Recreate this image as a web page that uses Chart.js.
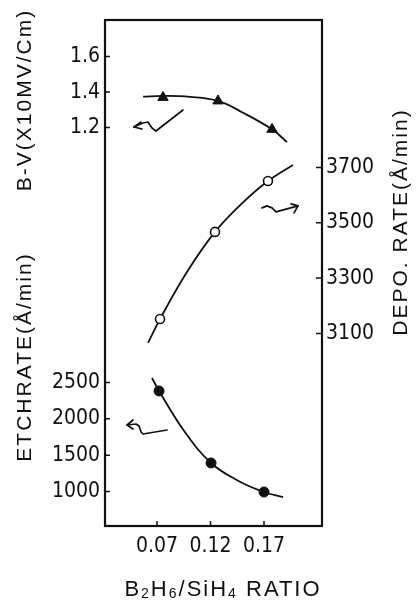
<!DOCTYPE html>
<html>
<head>
<meta charset="utf-8">
<script src="https://cdn.jsdelivr.net/npm/chart.js@4.4.0/dist/chart.umd.min.js"></script>
<style>
  html, body { margin: 0; padding: 0; background: #fff; }
</style>
</head>
<body>
<canvas id="chart" width="416" height="607"></canvas>
<script>
// --- tick labels ---
const xTicks = [0.07, 0.12, 0.17];
const bvTicks = [1.2, 1.4, 1.6];
const etchTicks = [1000, 1500, 2000, 2500];
const depoTicks = [3100, 3300, 3500, 3700];

// --- measured points ---
const bvX = [0.0756, 0.127, 0.1775];
const bvY = [1.37, 1.35, 1.19];
const depoX = [0.0728, 0.1242, 0.1737];
const depoY = [3152, 3467, 3651];
const etchX = [0.0719, 0.1205, 0.17];
const etchY = [2384, 1392, 992];

// --- fitted curves ---
const bvCurveX = [0.057, 0.0756, 0.1008, 0.127, 0.150, 0.1775, 0.1915];
const bvCurveY = [1.374, 1.378, 1.373, 1.35, 1.285, 1.19, 1.118];
const depoCurveX = [0.0616, 0.0728, 0.098, 0.1242, 0.1494, 0.1737, 0.197];
const depoCurveY = [3066, 3152, 3322, 3467, 3570, 3651, 3709];
const etchCurveX = [0.0653, 0.0719, 0.0962, 0.1205, 0.1457, 0.17, 0.1878];
const etchCurveY = [2563, 2384, 1815, 1392, 1148, 992, 923];

// axis ranges (whole plot height is shared by the three y scales)
const xMin = 0.0214, xMax = 0.2242;
const bvMin = -1.045, bvMax = 1.806;
const etchMin = 524, etchMax = 7494;
const depoMin = 2404, depoMax = 4233;

// hand drawn squiggle arrows: anchor in data units, stroke + head in px around it
const arrows = [
  { axis: 'ybv', x: 0.0709, y: 1.248,
    path: [[-24, 8], [-15, 4], [-10, 3], [-6, 9], [-2, 12], [25, -9]],
    head: [[-17, 3], [-24, 8], [-16, 10]] },
  { axis: 'yd', x: 0.1859, y: 3554,
    path: [[-19, 0], [-14, -2], [-9, 0], [-5, 4], [17, -2]],
    head: [[10, -4], [17, -2], [13, 5]] },
  { axis: 'y', x: 0.0607, y: 1874,
    path: [[-20, -3], [-11, -4], [-8, -2], [-6, 4], [-4, 6], [20, 2]],
    head: [[-14, -8], [-20, -3], [-14, 1]] }
];

const INK = '#111';
const tickFont = { family: "'Liberation Sans Narrow', 'DejaVu Sans Condensed', 'Liberation Sans', sans-serif", size: 21 };
const titleFamily = "'Liberation Sans', 'DejaVu Sans', sans-serif";

const pts = (xs, ys) => xs.map((x, i) => ({ x: x, y: ys[i] }));

// frame, inward tick marks, axis titles and arrows
const decor = {
  id: 'decor',
  afterDraw(chart) {
    const c = chart.ctx;
    const a = chart.chartArea;
    const s = chart.scales;
    c.save();
    c.strokeStyle = INK;
    c.lineWidth = 2.2;
    c.strokeRect(a.left, a.top, a.right - a.left, a.bottom - a.top);

    c.lineWidth = 1.5;
    c.beginPath();
    s.y.ticks.forEach(t => {
      const p = s.y.getPixelForValue(t.value);
      c.moveTo(a.left, p); c.lineTo(a.left + 5, p);
    });
    s.yd.ticks.forEach(t => {
      const p = s.yd.getPixelForValue(t.value);
      c.moveTo(a.right, p); c.lineTo(a.right - 6, p);
    });
    s.x.ticks.forEach(t => {
      const p = s.x.getPixelForValue(t.value);
      c.moveTo(p, a.bottom); c.lineTo(p, a.bottom - 5);
    });
    c.stroke();

    c.fillStyle = INK;
    c.textAlign = 'center';
    c.textBaseline = 'middle';
    c.font = '21px ' + titleFamily;
    c.letterSpacing = '2px';
    const vtext = (txt, x, y) => {
      c.save(); c.translate(x, y); c.rotate(-Math.PI / 2); c.fillText(txt, 0, 0); c.restore();
    };
    vtext('B-V(X10MV/Cm)', 25, 100);
    vtext('ETCHRATE(\u00C5/min)', 25, 357);
    vtext('DEPO. RATE(\u00C5/min)', 401, 222);

    // x title with subscripts
    const parts = [['B', 0], ['2', 1], ['H', 0], ['6', 1], ['/', 0], ['SiH', 0], ['4', 1], [' RATIO', 0]];
    c.letterSpacing = '2px';
    c.textAlign = 'left';
    c.textBaseline = 'alphabetic';
    let w = 0;
    parts.forEach(p => {
      c.font = (p[1] ? '14px ' : '22px ') + titleFamily;
      w += c.measureText(p[0]).width;
    });
    let x = 223 - w / 2;
    parts.forEach(p => {
      c.font = (p[1] ? '14px ' : '22px ') + titleFamily;
      c.fillText(p[0], x, p[1] ? 598 : 596);
      x += c.measureText(p[0]).width;
    });

    c.lineWidth = 1.7;
    c.lineCap = 'round';
    c.lineJoin = 'round';
    const poly = list => {
      c.beginPath();
      list.forEach((p, i) => (i ? c.lineTo(p[0], p[1]) : c.moveTo(p[0], p[1])));
      c.stroke();
    };
    arrows.forEach(ar => {
      c.save();
      c.translate(s.x.getPixelForValue(ar.x), s[ar.axis].getPixelForValue(ar.y));
      poly(ar.path);
      poly(ar.head);
      c.restore();
    });
    c.restore();
  }
};

const curve = (data, axis) => ({
  data: data, yAxisID: axis, showLine: true, pointRadius: 0,
  borderColor: INK, borderWidth: 1.8, tension: 0.4, fill: false
});

new Chart(document.getElementById('chart'), {
  type: 'scatter',
  data: {
    datasets: [
      { data: pts(bvX, bvY), yAxisID: 'ybv', pointStyle: 'triangle', pointRadius: 6,
        backgroundColor: INK, borderColor: INK, borderWidth: 1 },
      { data: pts(depoX, depoY), yAxisID: 'yd', pointStyle: 'circle', pointRadius: 4.5,
        backgroundColor: '#fff', borderColor: INK, borderWidth: 1.6 },
      { data: pts(etchX, etchY), yAxisID: 'y', pointStyle: 'circle', pointRadius: 5,
        backgroundColor: INK, borderColor: INK, borderWidth: 1 },
      curve(pts(bvCurveX, bvCurveY), 'ybv'),
      curve(pts(depoCurveX, depoCurveY), 'yd'),
      curve(pts(etchCurveX, etchCurveY), 'y')
    ]
  },
  options: {
    responsive: false,
    animation: false,
    events: [],
    layout: { padding: { top: 20, left: 0, right: 0, bottom: 0 } },
    plugins: { legend: { display: false }, tooltip: { enabled: false } },
    scales: {
      x: {
        type: 'linear', min: xMin, max: xMax,
        afterBuildTicks: s => { s.ticks = xTicks.map(v => ({ value: v })); },
        afterFit: s => { s.height = 81; },
        ticks: { callback: v => v.toFixed(2), font: tickFont, color: INK, padding: 8, maxRotation: 0, autoSkip: false },
        grid: { display: false, drawTicks: false },
        border: { display: false }
      },
      y: {
        position: 'left', min: etchMin, max: etchMax,
        afterBuildTicks: s => {
          const etch = etchTicks.map(v => ({ value: v, txt: String(v) }));
          const bv = bvTicks.map(v => ({
            value: etchMin + (v - bvMin) / (bvMax - bvMin) * (etchMax - etchMin),
            txt: v.toFixed(1)
          }));
          s.ticks = etch.concat(bv);
        },
        afterFit: s => { s.width = 105; },
        ticks: { callback: (v, i, t) => t[i].txt, font: tickFont, color: INK, padding: 5, autoSkip: false },
        grid: { display: false, drawTicks: false },
        border: { display: false }
      },
      ybv: { display: false, min: bvMin, max: bvMax },
      yd: {
        position: 'right', min: depoMin, max: depoMax,
        afterBuildTicks: s => { s.ticks = depoTicks.map(v => ({ value: v })); },
        afterFit: s => { s.width = 94; },
        ticks: { callback: v => String(v), font: tickFont, color: INK, padding: 4, autoSkip: false },
        grid: { display: false, drawTicks: false },
        border: { display: false }
      }
    }
  },
  plugins: [decor]
});
</script>
</body>
</html>
